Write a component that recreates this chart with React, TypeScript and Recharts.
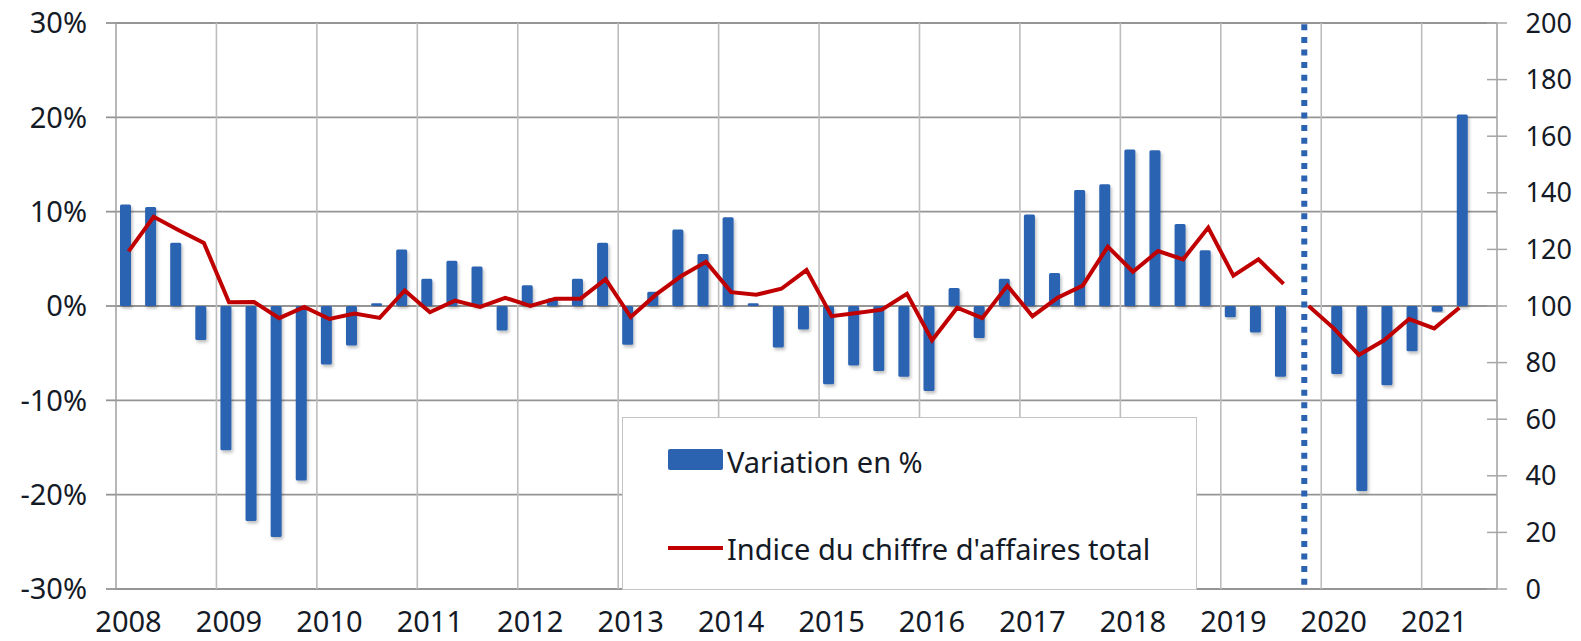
import React from 'react';
import { ComposedChart, Bar, Line, XAxis, YAxis, CartesianGrid, ReferenceLine } from 'recharts';

const years = [2008, 2009, 2010, 2011, 2012, 2013, 2014, 2015, 2016, 2017, 2018, 2019, 2020, 2021];
const quarterNames = ['Q1', 'Q2', 'Q3', 'Q4'];
const categories: string[] = years.flatMap((y) => quarterNames.map((q) => `${y}${q}`)).slice(0, 55);

// Variation en % (2008Q1 .. 2019Q3)
const variationBefore = [
  10.75, 10.5, 6.7, -3.6,
  -15.3, -22.8, -24.5, -18.5,
  -6.2, -4.2, 0.3, 6.0,
  2.9, 4.8, 4.2, -2.6,
  2.2, 0.8, 2.9, 6.7,
  -4.1, 1.5, 8.1, 5.5,
  9.4, 0.3, -4.4, -2.5,
  -8.3, -6.3, -6.9, -7.5,
  -9.0, 1.9, -3.4, 2.9,
  9.7, 3.5, 12.3, 12.9,
  16.6, 16.5, 8.7, 5.9,
  -1.2, -2.8, -7.5,
];
// Variation en % (2020Q1 .. 2021Q2)
const variationAfter = [-7.2, -19.6, -8.4, -4.8, -0.6, 20.3];

// Indice du chiffre d'affaires total (2008Q1 .. 2019Q3)
const indexBefore = [
  119.3, 131.5, 126.8, 122.3,
  101.3, 101.4, 95.7, 99.7,
  95.4, 97.3, 95.8, 105.5,
  97.8, 101.9, 99.7, 102.9,
  100.0, 102.6, 102.6, 109.5,
  96.1, 104.0, 110.5, 115.6,
  104.9, 104.0, 106.1, 112.7,
  96.4, 97.5, 98.7, 104.3,
  87.9, 99.4, 95.7, 107.2,
  96.4, 102.9, 107.2, 121.0,
  112.1, 119.4, 116.5, 127.7,
  110.7, 116.5, 107.8,
];
// Indice (2019Q4 .. 2021Q2)
const indexAfter = [100, 92.1, 82.7, 87.9, 95.4, 92.1, 99.4];

const leftTicks = [-30, -20, -10, 0, 10, 20, 30];
const rightTicks = [0, 20, 40, 60, 80, 100, 120, 140, 160, 180, 200];
const yearStarts = years.slice(1).map((y) => `${y}Q1`);
const breakQuarter = '2019Q4';
const legendLabels = ['Variation en %', "Indice du chiffre d'affaires total"];

const afterStart = categories.indexOf('2020Q1');
const idxAfterStart = categories.indexOf(breakQuarter);

const data = categories.map((q, i) => ({
  q,
  before: i < variationBefore.length ? variationBefore[i] : null,
  after: i >= afterStart && i - afterStart < variationAfter.length ? variationAfter[i - afterStart] : null,
  idxBefore: i < indexBefore.length ? indexBefore[i] : null,
  idxAfter: i >= idxAfterStart && i - idxAfterStart < indexAfter.length ? indexAfter[i - idxAfterStart] : null,
}));

const FONT = '"Noto Sans", sans-serif';
const TEXT = '#141a26';
const BLUE = '#2C63B1';
const RED = '#C00000';
const HGRID = '#959595';
const VGRID = '#BDBDBD';
const AXIS = '#A6A6A6';

const RightTick = (props: any) => {
  const { x, y, payload } = props;
  return (
    <g>
      <line x1={x - 40} x2={x - 20} y1={y} y2={y} stroke={AXIS} strokeWidth={1.5} />
      <text x={x - 1.5} y={y} dy="0.355em" textAnchor="start" fontSize={27} fontFamily={FONT} fill={TEXT}>
        {payload.value}
      </text>
    </g>
  );
};

const DottedShape = (props: any) => {
  const { x1, x2, y1, y2 } = props;
  return (
    <line
      x1={x1 - 4.4}
      x2={x2 - 4.4}
      y1={Math.min(y1, y2) + 1.3}
      y2={Math.max(y1, y2)}
      stroke={BLUE}
      strokeWidth={6}
      strokeDasharray="6 6.6"
    />
  );
};

export default function App() {
  return (
    <div style={{ position: 'absolute', left: 0, top: 0, width: 1581, height: 641, background: '#fff' }}>
      <ComposedChart
        width={1581}
        height={641}
        data={data}
        margin={{ top: 23, right: 0, bottom: 0, left: 0 }}
        barGap={-5}
        barSize={11}
      >
        <defs>
          <filter id="barShadow" x="-50%" y="-10%" width="200%" height="130%">
            <feDropShadow dx="1.5" dy="2.5" stdDeviation="1.8" floodColor="#000" floodOpacity="0.25" />
          </filter>
        </defs>
        <CartesianGrid yAxisId="left" vertical={false} stroke={HGRID} strokeWidth={1.8} />
        {yearStarts.map((q) => (
          <ReferenceLine key={q} x={q} yAxisId="left" position="start" stroke={VGRID} strokeWidth={1.6} />
        ))}
        <XAxis
          dataKey="q"
          interval={0}
          height={52}
          axisLine={false}
          tickLine={false}
          tickSize={8}
          tickMargin={14}
          tickFormatter={(v: string) => (v.endsWith('Q1') ? v.slice(0, 4) : '')}
          tick={{ fontSize: 29, fontFamily: FONT, fill: TEXT }}
        />
        <YAxis
          yAxisId="left"
          orientation="left"
          width={116}
          domain={[-30, 30]}
          ticks={leftTicks}
          interval={0}
          tickFormatter={(v: number) => `${v}%`}
          axisLine={{ stroke: AXIS, strokeWidth: 1.6 }}
          tickLine={{ stroke: HGRID, strokeWidth: 1.8 }}
          tickSize={10}
          tickMargin={19}
          tick={{ fontSize: 29, fontFamily: FONT, fill: TEXT }}
        />
        <YAxis
          yAxisId="right"
          orientation="right"
          width={84}
          domain={[0, 200]}
          ticks={rightTicks}
          interval={0}
          axisLine={{ stroke: AXIS, strokeWidth: 1.6 }}
          tickLine={false}
          tickSize={10}
          tickMargin={20}
          tick={<RightTick />}
        />
        <Bar yAxisId="left" dataKey="before" fill={BLUE} radius={1.5} isAnimationActive={false} filter="url(#barShadow)" />
        <Bar yAxisId="left" dataKey="after" fill={BLUE} radius={1.5} isAnimationActive={false} filter="url(#barShadow)" />
        <ReferenceLine x={breakQuarter} yAxisId="left" stroke={BLUE} shape={<DottedShape />} />
        <Line
          yAxisId="right"
          dataKey="idxBefore"
          stroke={RED}
          strokeWidth={4}
          dot={false}
          activeDot={false}
          connectNulls={false}
          isAnimationActive={false}
        />
        <Line
          yAxisId="right"
          dataKey="idxAfter"
          stroke={RED}
          strokeWidth={4}
          dot={false}
          activeDot={false}
          connectNulls={false}
          isAnimationActive={false}
        />
      </ComposedChart>
      <div
        style={{
          position: 'absolute',
          left: 622,
          top: 417,
          width: 575,
          height: 173,
          boxSizing: 'border-box',
          background: '#fff',
          border: '1.5px solid #C4C4C4',
          fontFamily: FONT,
          fontSize: 29,
          color: TEXT,
        }}
      >
        <div style={{ position: 'absolute', left: 45, top: 31, width: 55, height: 21, background: BLUE, borderRadius: 2 }} />
        <div style={{ position: 'absolute', left: 104, top: 43, transform: 'translateY(-50%)', whiteSpace: 'nowrap', lineHeight: 1 }}>
          {legendLabels[0]}
        </div>
        <div style={{ position: 'absolute', left: 45, top: 128, width: 55, height: 4, background: RED }} />
        <div style={{ position: 'absolute', left: 104, top: 130, transform: 'translateY(-50%)', whiteSpace: 'nowrap', lineHeight: 1 }}>
          {legendLabels[1]}
        </div>
      </div>
    </div>
  );
}
